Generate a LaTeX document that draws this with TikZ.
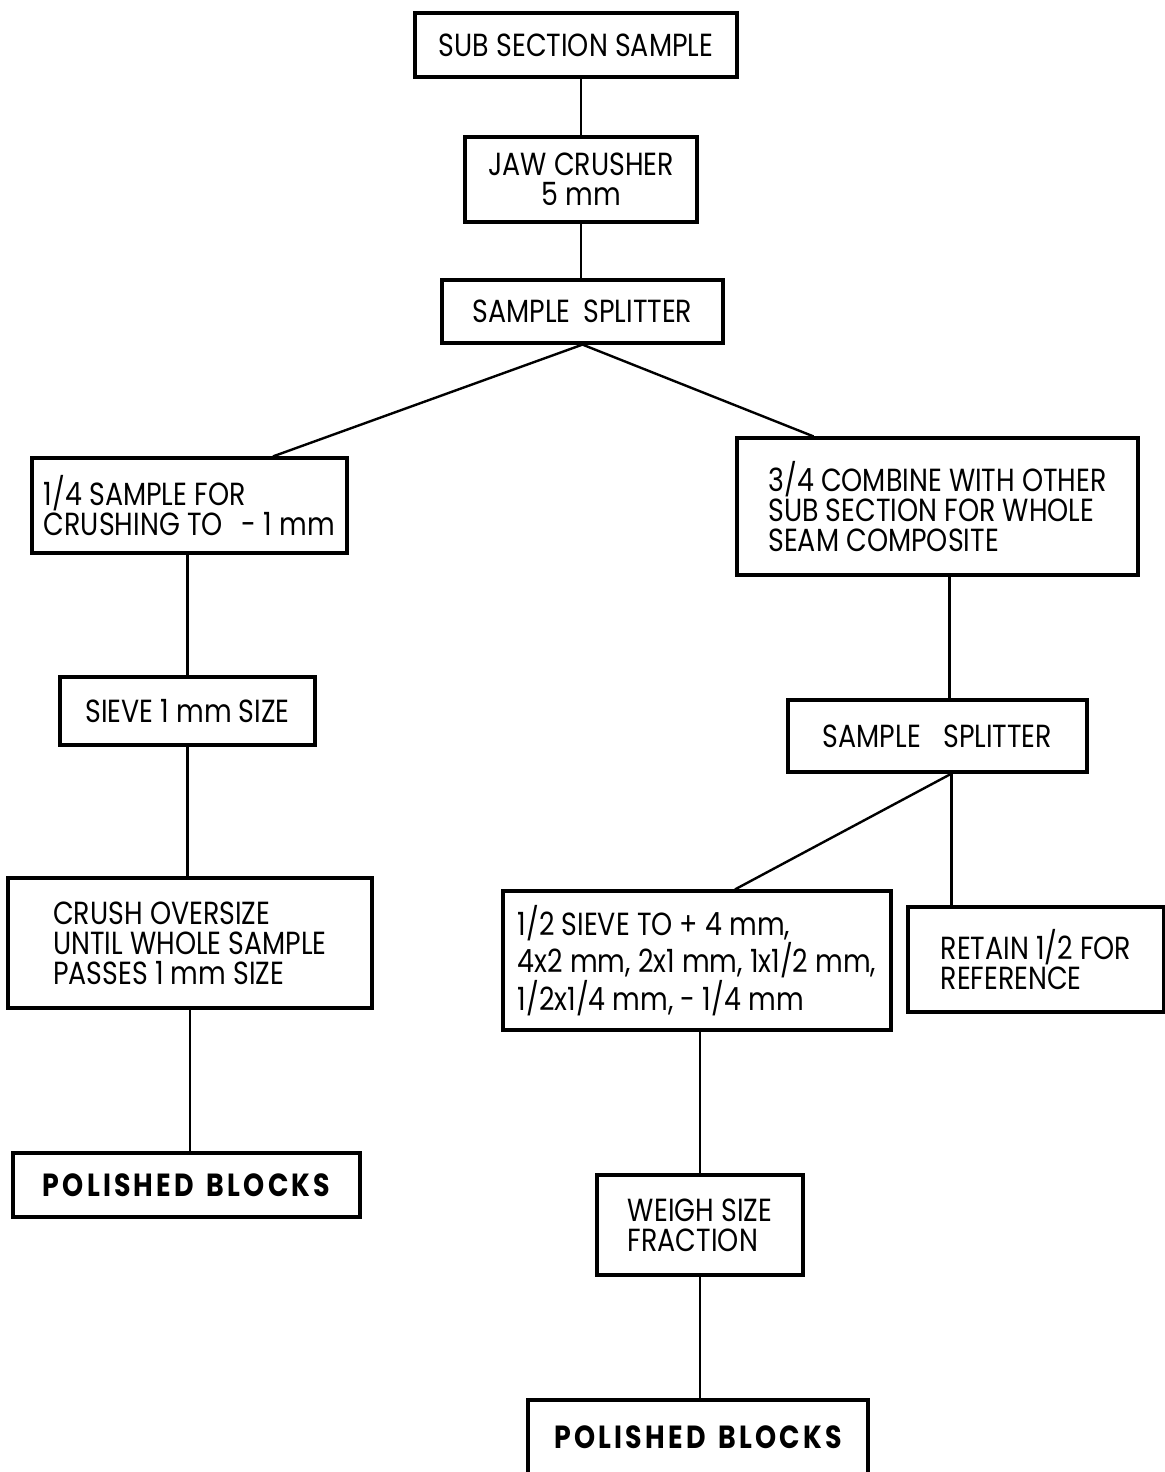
\documentclass[tikz,border=0pt]{standalone}
\usepackage{fontspec}
\setmainfont{Poppins}[FakeStretch=0.84]
\usepackage{tikz}

\begin{document}
\begin{tikzpicture}[x=0.5pt,y=-0.5pt]

		\tikzset{
            procbox/.style={
                draw,
                line width=1.6pt,
                inner sep=0pt,
                align=left,
                font=\fontsize{16}{15}\selectfont
            },
            endbox/.style={
                procbox,
                font=\fontsize{16}{15}\selectfont\bfseries\addfontfeature{LetterSpace=10}
            },
            link/.style={
                line width=1.2pt
            }
        }

        \useasboundingbox (0,0) rectangle (1165,1472);

        % main line
        \node[procbox, minimum width=161pt, minimum height=32pt] (subsample) at (576,45) {SUB SECTION SAMPLE};
        \node[procbox, align=center, minimum width=116pt, minimum height=42.5pt] (jaw) at (581,179.5) {JAW CRUSHER\\5 mm};
        \node[procbox, minimum width=140.5pt, minimum height=31.5pt] (splitter) at (582.5,311.5) {SAMPLE\hspace{0.4em}SPLITTER};

        % left branch
        \node[procbox, minimum width=157.5pt, minimum height=47.5pt] (quarter) at (189.5,505.5) {1/4 SAMPLE FOR\\CRUSHING TO\hspace{0.6em}- 1 mm};
        \node[procbox, minimum width=127.5pt, minimum height=34pt] (sieve) at (187.5,711) {SIEVE 1 mm SIZE};
        \node[procbox, minimum width=182pt, minimum height=65pt] (crush) at (190,943) {CRUSH OVERSIZE\\UNTIL WHOLE SAMPLE\\PASSES 1 mm SIZE};
        \node[endbox, minimum width=173.5pt, minimum height=32pt] (blocksL) at (186.5,1185) {POLISHED\hspace{0.4em}BLOCKS};

        % right branch
        \node[procbox, minimum width=200.5pt, minimum height=68.5pt] (combine) at (937.5,506.5) {3/4 COMBINE WITH OTHER\\SUB SECTION FOR WHOLE\\SEAM COMPOSITE};
        \node[procbox, minimum width=149.5pt, minimum height=36pt] (splitterR) at (937.5,736) {SAMPLE\hspace{0.7em}SPLITTER};
        \node[procbox, minimum width=194pt, minimum height=69.5pt] (half) at (697,960.5) {1/2 SIEVE TO + 4 mm,\\4x2 mm, 2x1 mm, 1x1/2 mm,\\1/2x1/4 mm, - 1/4 mm};
        \node[procbox, minimum width=128pt, minimum height=52.5pt] (retain) at (1036,959.5) {RETAIN 1/2 FOR\\REFERENCE};
        \node[procbox, minimum width=103pt, minimum height=50pt] (weigh) at (700,1225) {WEIGH SIZE\\FRACTION};
        \node[endbox, minimum width=170pt, minimum height=37pt] (blocksR) at (698,1437) {POLISHED\hspace{0.4em}BLOCKS};

        \draw[link] (jaw.north |- subsample.south) -- (jaw.north);
        \draw[link] (jaw.south) -- (jaw.south |- splitter.north);
        \draw[link] (splitter.south) -- ([xshift=41.75pt]quarter.north);
        \draw[link] (splitter.south) -- ([xshift=-62pt]combine.north);

        \draw[link] (sieve.north |- quarter.south) -- (sieve.north);
        \draw[link] (sieve.south) -- (sieve.south |- crush.north);
        \draw[link] (crush.south) -- (crush.south |- blocksL.north);

        \draw[link] ([xshift=6pt]combine.south) -- ([xshift=6pt]combine.south |- splitterR.north);
        \draw[link] ([xshift=7pt]splitterR.south) -- ([xshift=19pt]half.north);
        \draw[link] ([xshift=7pt]splitterR.south) -- ([xshift=7pt]splitterR.south |- retain.north);
        \draw[link] (weigh.north |- half.south) -- (weigh.north);
        \draw[link] (weigh.south) -- (weigh.south |- blocksR.north);

        \end{tikzpicture}
\end{document}
